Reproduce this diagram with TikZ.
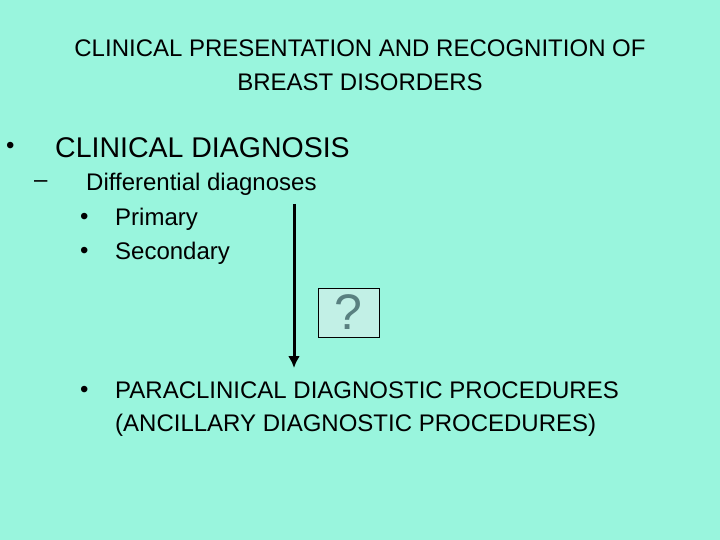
\documentclass[tikz,border=0pt]{standalone}
\usepackage{fontspec}
\setmainfont{Liberation Sans}
\usetikzlibrary{arrows.meta}
\definecolor{slidebg}{HTML}{99F5DD}
\definecolor{qbox}{HTML}{C2F0E6}
\tikzset{txt/.style={anchor=west,inner sep=0pt,font=\fontsize{24}{33}\selectfont},
  qmark/.style={draw=black,fill=qbox,minimum width=61pt,minimum height=49pt,inner sep=0pt}}
\begin{document}
\begin{tikzpicture}[x=1pt,y=-1pt]
\fill[slidebg] (0,0) rectangle (720,540);
\useasboundingbox (0,0) rectangle (720,540);
\node[inner sep=0pt,align=center,font=\fontsize{24}{34}\selectfont] (title) at (360,65) {CLINICAL PRESENTATION AND RECOGNITION OF\\BREAST DISORDERS};
\node[txt] (b1) at (6,148) {\textbullet};
\node[txt,font=\fontsize{28.5}{30}\selectfont] (diag) at (55,148) {CLINICAL DIAGNOSIS};
\node[txt] (d1) at (34,184) {--};
\node[txt] (diff) at (86,184) {Differential diagnoses};
\node[txt] (b2) at (80,219) {\textbullet};
\node[txt] (prim) at (115,219) {Primary};
\node[txt] (b3) at (80,253) {\textbullet};
\node[txt] (sec) at (115,253) {Secondary};
\node[txt] (b4) at (80,392) {\textbullet};
\node[txt,align=left] (para) at (115,409) {PARACLINICAL DIAGNOSTIC PROCEDURES\\(ANCILLARY DIAGNOSTIC PROCEDURES)};
\coordinate (top) at (294,204);
\coordinate (bot) at (294,368);
\draw[line width=3pt,-{Latex[length=12pt,width=12pt]}] (top) -- (bot);
\node[qmark] (q) at (348.5,312.5) {};
\node[font=\fontsize{50}{50}\selectfont,text=gray!70!teal,inner sep=0pt] (qm) at (q) {?};
\end{tikzpicture}
\end{document}
